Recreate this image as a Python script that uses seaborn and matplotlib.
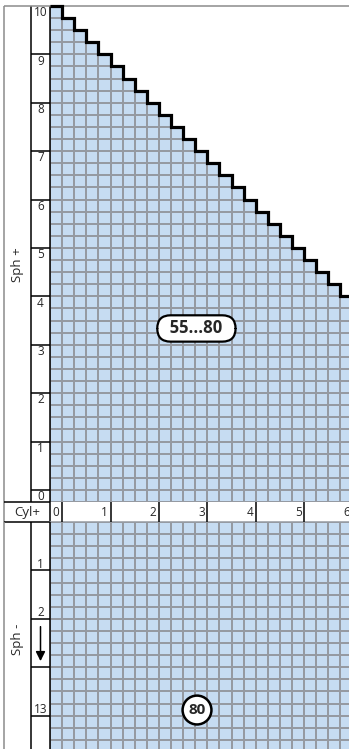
import numpy as np
import pandas as pd
import seaborn as sns
import matplotlib.pyplot as plt
from matplotlib.colors import ListedColormap

sns.set_style("white")
plt.rcParams["font.family"] = ["Open Sans", "DejaVu Sans"]

# grid categories (0.25 D steps)
cyl_values = np.arange(0, 6.01, 0.25)
sph_pos_values = np.arange(10, -0.01, -0.25)

# highest available cylinder for every Sph+ row (10.00 down to 0.00)
max_cyl_pos = [0.0, 0.25, 0.5, 0.75, 1.0, 1.25, 1.5, 1.75, 2.0, 2.25,
               2.5, 2.75, 3.0, 3.25, 3.5, 3.75, 4.0, 4.25, 4.5, 4.75,
               5.0, 5.25, 5.5, 5.75, 6.0, 6.0, 6.0, 6.0, 6.0, 6.0,
               6.0, 6.0, 6.0, 6.0, 6.0, 6.0, 6.0, 6.0, 6.0, 6.0, 6.0]

# Sph- part: rows shown, labelled rows, collapsed range
n_neg_rows = 19
neg_label_rows = [3, 7, 15]
neg_labels = ["1", "2", "13"]
break_rows = (8, 12)

sph_pos_ticks = [10, 9, 8, 7, 6, 5, 4, 3, 2, 1, 0]
cyl_ticks = [0, 1, 2, 3, 4, 5, 6]

range_pos = "55...80"
range_neg = "80"

blue = "#c6dcf2"
grid_gray = "#959aa2"
frame_gray = "#8c8c8c"

# availability tables
pos = pd.DataFrame(
    [[1.0 if c <= m + 1e-9 else np.nan for c in cyl_values] for m in max_cyl_pos],
    index=sph_pos_values, columns=cyl_values)
neg = pd.DataFrame(np.ones((n_neg_rows, len(cyl_values))), columns=cyl_values)

W, H = 349, 749
cell = 12.1
gx, gtop = 50, 6
pos_bottom = gtop + len(pos) * cell
neg_top = 522

fig = plt.figure(figsize=(W / 100, H / 100), dpi=100)
ax_pos = fig.add_axes([gx / W, 1 - pos_bottom / H, (W - gx) / W, (pos_bottom - gtop) / H])
ax_neg = fig.add_axes([gx / W, 0, (W - gx) / W, (H - neg_top) / H])

for ax, data in [(ax_pos, pos), (ax_neg, neg)]:
    sns.heatmap(data, ax=ax, cmap=ListedColormap([blue]), vmin=0, vmax=1,
                cbar=False, linewidths=1.2, linecolor=grid_gray,
                xticklabels=False, yticklabels=False)
    ax.set_xlim(0, (W - gx) / cell)
    for s in ax.spines.values():
        s.set_visible(False)

xmax = (W - gx) / cell
ax_pos.set_ylim(len(pos), 0)
ax_neg.set_ylim((H - neg_top) / cell, 0)

lab_l = (31 - gx) / cell
out_l = (4 - gx) / cell
cyl_row_b = (neg_top - gtop) / cell
kw = dict(color="black", lw=1.1, clip_on=False, solid_capstyle="butt")
gk = dict(color=frame_gray, lw=1.1, clip_on=False, solid_capstyle="butt")

# staircase boundary of the Sph+ range
ncols = [int(round(m / 0.25)) + 1 for m in max_cyl_pos]
sx, sy = [0], [0]
for r, c in enumerate(ncols):
    if c >= len(cyl_values):
        sx.append(xmax)
        sy.append(r)
        break
    sx += [c, c]
    sy += [r, r + 1]
# blank out the unavailable corner (no grid there)
ax_pos.fill(sx + [xmax + 1, xmax + 1], sy + [sy[-1], -0.2], color="white",
            lw=0, zorder=2)
ax_pos.plot(sx, sy, color="black", lw=2.3, clip_on=False, zorder=3,
            solid_joinstyle="miter", solid_capstyle="butt")

# frame
ax_pos.plot([out_l, xmax], [0, 0], zorder=2.5, **gk)
ax_pos.plot([out_l, out_l], [0, cyl_row_b], **gk)
ax_neg.plot([out_l, out_l], [0, (H - neg_top) / cell], **gk)

# Sph+ label column
ax_pos.plot([lab_l, lab_l], [0, len(pos)], **kw)
ax_pos.plot([0, 0], [0, cyl_row_b], **kw)
for k in sph_pos_ticks:
    r = int(round((10 - k) / 0.25))
    if k != 10:
        ax_pos.plot([lab_l, 0], [r, r], **kw)
    ax_pos.text(lab_l / 2, r + 0.55, str(k), ha="center", va="center",
                fontsize=8.5, clip_on=False)
ax_pos.text((out_l + lab_l) / 2, 21.4, "Sph +", rotation=90,
            ha="center", va="center", fontsize=9.5)

# Cyl+ row
for y in [len(pos), cyl_row_b]:
    ax_pos.plot([out_l, 0], [y, y], **kw)
ax_pos.plot([0, xmax], [cyl_row_b, cyl_row_b], color=grid_gray,
            lw=1.1, clip_on=False)
ycyl = (len(pos) + cyl_row_b) / 2
ax_pos.text(out_l / 2, ycyl, "Cyl+", ha="center", va="center", fontsize=9.5)
for k in cyl_ticks:
    if k == 0:
        ax_pos.plot([1, 1], [len(pos), cyl_row_b], **kw)
        ax_pos.text(0.5, ycyl, "0", ha="center", va="center", fontsize=8.5)
        continue
    xr = 4 * k + 1
    if xr <= xmax:
        ax_pos.plot([xr, xr], [len(pos), cyl_row_b], **kw)
    ax_pos.text(xr - 0.2, ycyl, str(k), ha="right", va="center", fontsize=8.5,
                clip_on=False)

# Sph- label column
nb = (H - neg_top) / cell
ax_neg.plot([lab_l, lab_l], [0, nb], **kw)
ax_neg.plot([0, 0], [0, nb], **kw)
for r, t in zip(neg_label_rows, neg_labels):
    ax_neg.plot([lab_l, 0], [r + 1, r + 1], **kw)
    ax_neg.text(lab_l / 2, r + 0.5, t, ha="center", va="center", fontsize=8.5,
                clip_on=False)
ax_neg.plot([lab_l, 0], [break_rows[1], break_rows[1]], **kw)
ax_neg.annotate("", xy=(lab_l / 2, break_rows[1] - 0.5),
                xytext=(lab_l / 2, break_rows[0] + 0.65),
                arrowprops=dict(arrowstyle="-|>", color="black", lw=1.1,
                                mutation_scale=14, shrinkA=0, shrinkB=0),
                annotation_clip=False)
ax_neg.text((out_l + lab_l) / 2, 9.67, "Sph -", rotation=90,
            ha="center", va="center", fontsize=9.5)

# range badges
ax_pos.text(12.1, 26.65, "  " + range_pos + "  ", ha="center", va="center",
            fontsize=12, fontweight="bold", zorder=4,
            bbox=dict(boxstyle="round,pad=0.25,rounding_size=0.8",
                      fc="white", ec="black", lw=1.6))
ax_neg.text(12.15, 15.54, range_neg, ha="center", va="center",
            fontsize=11, fontweight="bold", zorder=4,
            bbox=dict(boxstyle="circle,pad=0.38", fc="white", ec="black", lw=1.8))

fig.savefig("out.png", dpi=100)
